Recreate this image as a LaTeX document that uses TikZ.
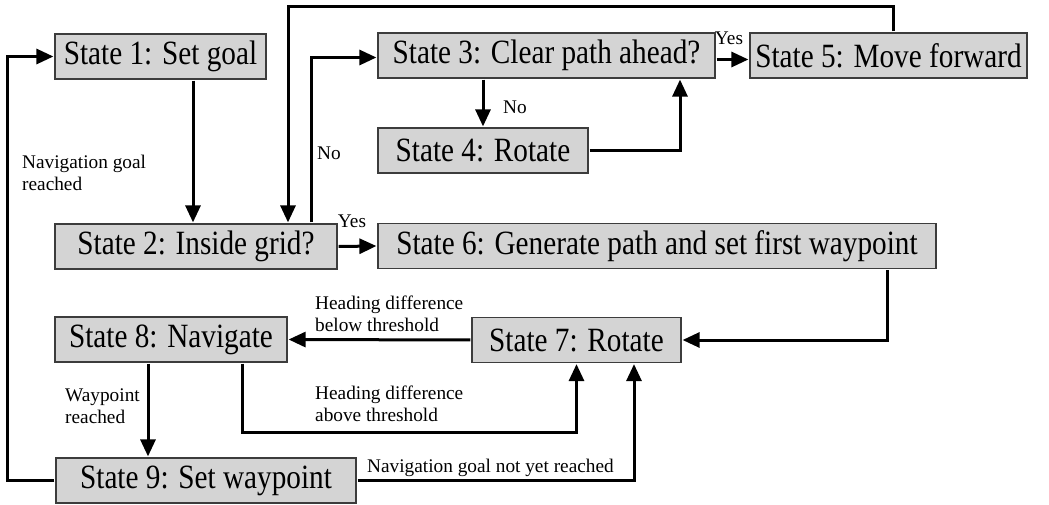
\documentclass[tikz,border=0pt]{standalone}
\usepackage{fontspec}
\setmainfont{Liberation Serif}
\newfontfamily\statefamily[FakeStretch=0.86]{Liberation Serif}
\usetikzlibrary{arrows.meta}
\definecolor{boxfill}{RGB}{212,212,212}
\definecolor{boxline}{RGB}{60,60,60}
\newcommand{\statefont}{\statefamily\fontsize{34}{40}\selectfont}
\newcommand{\labelfont}{\fontsize{19.3}{22}\selectfont}

\begin{document}
\begin{tikzpicture}[x=1pt, y=-1pt,
    state/.style={draw=boxline, line width=1.2pt, fill=boxfill, font=\statefont, inner sep=0pt, minimum height=45pt},
    lbl/.style={font=\labelfont, inner sep=2pt, align=left},
    arr/.style={line width=3pt, -{Triangle[length=17pt,width=15pt]}, shorten >=1pt, shorten <=1pt}]
    \useasboundingbox (0,0) rectangle (1049,505);

    \node[state, minimum width=211pt] (s1) at (160.5,56.5) {State 1: Set goal};
    \node[state, minimum width=282pt] (s2) at (196,246.5) {State 2: Inside grid?};
    \node[state, minimum width=337pt] (s3) at (546.5,55.5) {State 3: Clear path ahead?};
    \node[state, minimum width=210pt] (s4) at (483,150.5) {State 4: Rotate};
    \node[state, minimum width=277pt] (s5) at (888.5,55.5) {State 5: Move forward};
    \node[state, minimum width=558pt] (s6) at (657,246) {State 6: Generate path and set first waypoint};
    \node[state, minimum width=209pt] (s7) at (576.5,340) {State 7: Rotate};
    \node[state, minimum width=232pt] (s8) at (171,339.5) {State 8: Navigate};
    \node[state, minimum width=300pt] (s9) at (206,480.5) {State 9: Set waypoint};

    \node[lbl, anchor=west] (lgoal) at (20,173) {Navigation goal\\reached};
    \node[lbl, anchor=west] (lnogrid) at (315,153) {No};
    \node[lbl] (lyesgrid) at (352,221) {Yes};
    \node[lbl, anchor=west] (lnoclear) at (501,107) {No};
    \node[lbl] (lyesclear) at (729,38) {Yes};
    \node[lbl, anchor=west] (lbelow) at (313,314) {Heading difference\\below threshold};
    \node[lbl, anchor=west] (labove) at (313,404) {Heading difference\\above threshold};
    \node[lbl, anchor=west] (lwaypt) at (63,406) {Waypoint\\reached};
    \node[lbl, anchor=west] (lnotyet) at (365,468) {Navigation goal not yet reached};

    \draw[arr] ([xshift=32.5pt]s1.south) -- ([xshift=32.5pt]s1.south |- s2.north);
    \draw[arr] (s9.west) -- ++(-48,0) |- (s1.west);
    \draw[arr] ([xshift=4.5pt]s5.north) -- ++(0,-26) -| ([xshift=92pt]s2.north);
    \draw[arr] ([xshift=115pt]s2.north) |- ([yshift=-2pt]s3.west);
    \draw[arr] (s2.east) -- (s6.west);
    \draw[arr] (s4.north |- s3.south) -- (s4.north);
    \draw[arr] (s4.east) -| ([xshift=133.5pt]s3.south);
    \draw[arr] ([yshift=-4pt]s3.east) -- ([yshift=-4pt]s5.west);
    \draw[arr] ([xshift=230pt]s6.south) |- (s7.east);
    \draw[arr] (s7.west) -- (s8.east);
    \draw[arr] ([xshift=71pt]s8.south) -- ++(0,70) -| (s7.south);
    \draw[arr] ([xshift=-23pt]s8.south) -- ([xshift=-23pt]s8.south |- s9.north);
    \draw[arr] (s9.east) -| ([xshift=57.5pt]s7.south);
\end{tikzpicture}
\end{document}
